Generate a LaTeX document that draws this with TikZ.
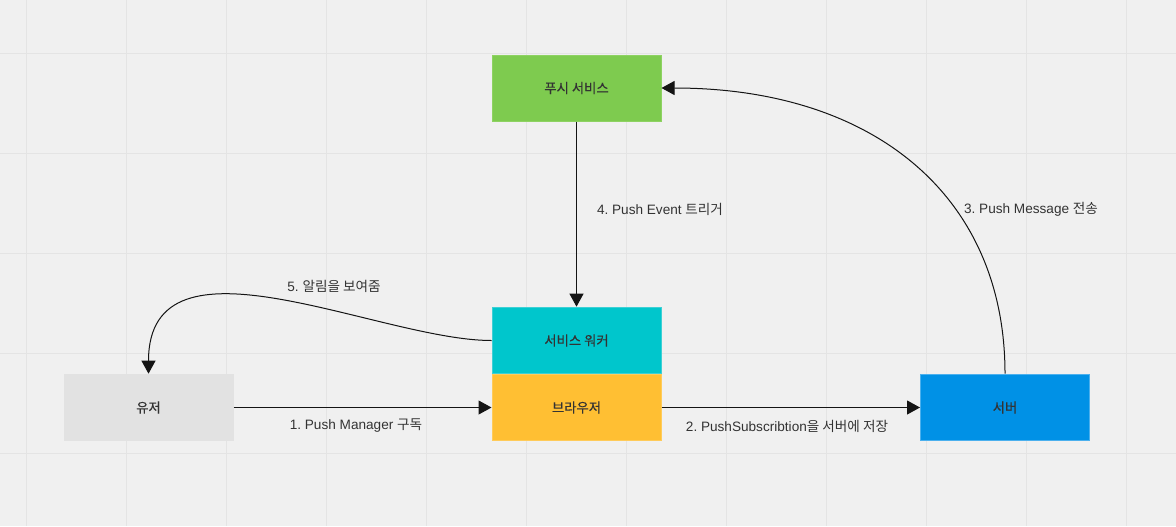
\documentclass[tikz,border=0pt]{standalone}
\usepackage{fontspec}
\setmainfont{Liberation Sans}
\newfontfamily\kr{Noto Sans CJK KR}
\newfontfamily\krb{Noto Sans CJK KR}[FakeBold=0.3]
\usetikzlibrary{arrows.meta}
\frenchspacing
\definecolor{bgc}{HTML}{F0F0F0}
\definecolor{gridc}{HTML}{E4E4E4}
\definecolor{txt}{HTML}{333333}
\definecolor{cgreen}{HTML}{7ECB4F}
\definecolor{cgreenb}{HTML}{8ED262}
\definecolor{ccyan}{HTML}{00C6CC}
\definecolor{ccyanb}{HTML}{3DD0D5}
\definecolor{cyel}{HTML}{FFBF33}
\definecolor{cyelb}{HTML}{FFCB5A}
\definecolor{cgray}{HTML}{E2E2E2}
\definecolor{cblue}{HTML}{0091E6}
\definecolor{cblueb}{HTML}{4BB0EE}
\tikzset{
  boxc/.style={minimum width=126.75pt, minimum height=50pt, inner sep=0pt, text=txt, font=\krb\fontsize{10pt}{12pt}\selectfont, line width=0.75pt},
  lbl/.style={text=txt, inner sep=0pt, font=\fontsize{10.2pt}{12pt}\selectfont},
  conn/.style={draw=black!92, line width=0.75pt, -{Triangle[length=9.75pt,width=10.5pt]}}
}
\begin{document}
\begin{tikzpicture}[x=0.75pt,y=-0.75pt]
\fill[bgc] (0,0) rectangle (1176,526);
\useasboundingbox (0,0) rectangle (1176,526);
\foreach \gx in {26,126,...,1126} \draw[gridc, line width=0.75pt] (\gx,0) -- (\gx,526);
\foreach \gy in {53,153,...,453} \draw[gridc, line width=0.75pt] (0,\gy) -- (1176,\gy);

\node[boxc, fill=cgreen, draw=cgreenb, minimum height=49.5pt] (push) at (576.5,88) {푸시 서비스};
\node[boxc, fill=ccyan, draw=ccyanb] (sw) at (576.5,340.5) {서비스 워커};
\node[boxc, fill=cyel, draw=cyelb] (br) at (576.5,407.5) {브라우저};
\node[boxc, fill=cgray, draw=cgray] (user) at (148.5,407.5) {유저};
\node[boxc, fill=cblue, draw=cblueb] (srv) at (1005,407.5) {서버};

\draw[conn] (user.east) -- (br.west);
\draw[conn] (br.east) -- (srv.west);
\draw[conn] (push.south) -- (sw.north);
\draw[conn] (srv.north) .. controls +(0,-177) and +(213,0) .. (push.east);
\draw[conn] (sw.west) .. controls +(-112,0) and +(0,-151) .. (user.north);

\node[lbl] (l1) at (356,426) {1. Push Manager {\kr 구독}};
\node[lbl] (l2) at (787,426) {2. PushSubscribtion{\kr 을 서버에 저장}};
\node[lbl] (l3) at (1031,209) {3. Push Message {\kr 전송}};
\node[lbl] (l4) at (660,209) {4. Push Event {\kr 트리거}};
\node[lbl] (l5) at (334,286) {5. {\kr 알림을 보여줌}};
\end{tikzpicture}
\end{document}
